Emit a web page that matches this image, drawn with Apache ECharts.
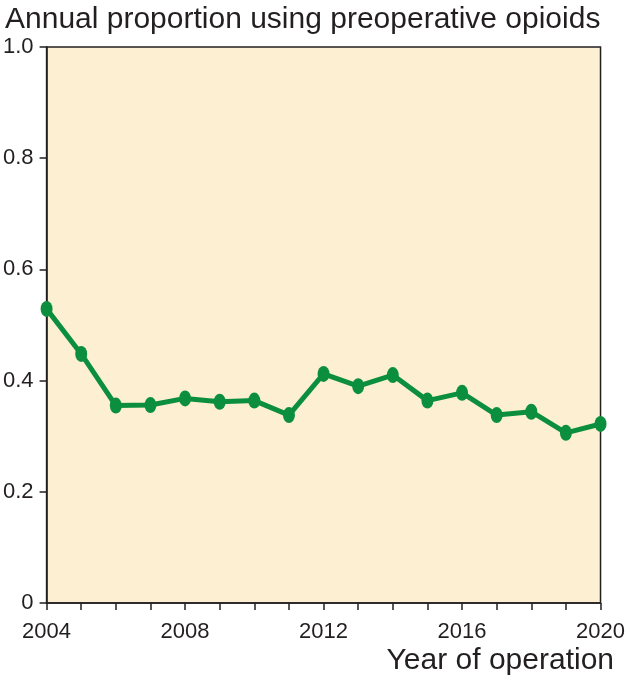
<!DOCTYPE html>
<html>
<head>
<meta charset="utf-8">
<script src="https://cdn.jsdelivr.net/npm/echarts@6/dist/echarts.min.js"></script>
<style>
  html, body { margin: 0; padding: 0; background: #ffffff; }
  #chart { width: 628px; height: 679px; }
</style>
</head>
<body>
<div id="chart"></div>
<script>
const years = ["2004", "2005", "2006", "2007", "2008", "2009", "2010", "2011", "2012",
  "2013", "2014", "2015", "2016", "2017", "2018", "2019", "2020"];
const proportion = [0.529, 0.448, 0.355, 0.356, 0.368, 0.362, 0.364, 0.338, 0.412,
  0.390, 0.410, 0.364, 0.378, 0.338, 0.344, 0.306, 0.322];
const yTicks = [0, 0.2, 0.4, 0.6, 0.8, 1.0];

const ink = "#231f20";
const green = "#0b8f3e";

const chart = echarts.init(document.getElementById("chart"));

chart.setOption({
  animation: false,
  textStyle: { fontFamily: "Liberation Sans, Arial, sans-serif" },
  title: {
    text: "Annual proportion using preoperative opioids",
    left: 0,
    top: 0,
    textStyle: {
      fontFamily: "Liberation Sans, Arial, sans-serif",
      fontSize: 30,
      fontWeight: "normal",
      color: ink,
    },
  },
  graphic: [
    {
      type: "text",
      right: 14,
      top: 646,
      style: {
        text: "Year of operation",
        font: "30px Liberation Sans, Arial, sans-serif",
        fill: ink,
      },
    },
  ],
  grid: {
    left: 46,
    right: 27,
    top: 47,
    bottom: 76,
    show: true,
    backgroundColor: "#fdefd1",
    borderColor: ink,
    borderWidth: 1.5,
  },
  xAxis: {
    type: "category",
    data: years,
    boundaryGap: false,
    axisLine: { lineStyle: { color: ink, width: 1.5 } },
    axisTick: { interval: 0, length: 7, lineStyle: { color: ink, width: 1.5 } },
    axisLabel: {
      interval: 3,
      margin: 18,
      fontSize: 22,
      color: ink,
    },
    splitLine: { show: false },
  },
  yAxis: {
    type: "value",
    min: 0,
    max: 1,
    interval: 0.2,
    axisLine: { show: true, lineStyle: { color: ink, width: 1.5 } },
    axisTick: { show: true, length: 7, lineStyle: { color: ink, width: 1.5 } },
    axisLabel: {
      margin: 13,
      fontSize: 22,
      color: ink,
      formatter: (v) => (yTicks.includes(v) && v !== 0 ? v.toFixed(1) : "0"),
    },
    splitLine: { show: false },
  },
  series: [
    {
      type: "line",
      data: proportion,
      symbol: "circle",
      symbolSize: [12, 16],
      lineStyle: { color: green, width: 5 },
      itemStyle: { color: green },
    },
  ],
});
</script>
</body>
</html>
